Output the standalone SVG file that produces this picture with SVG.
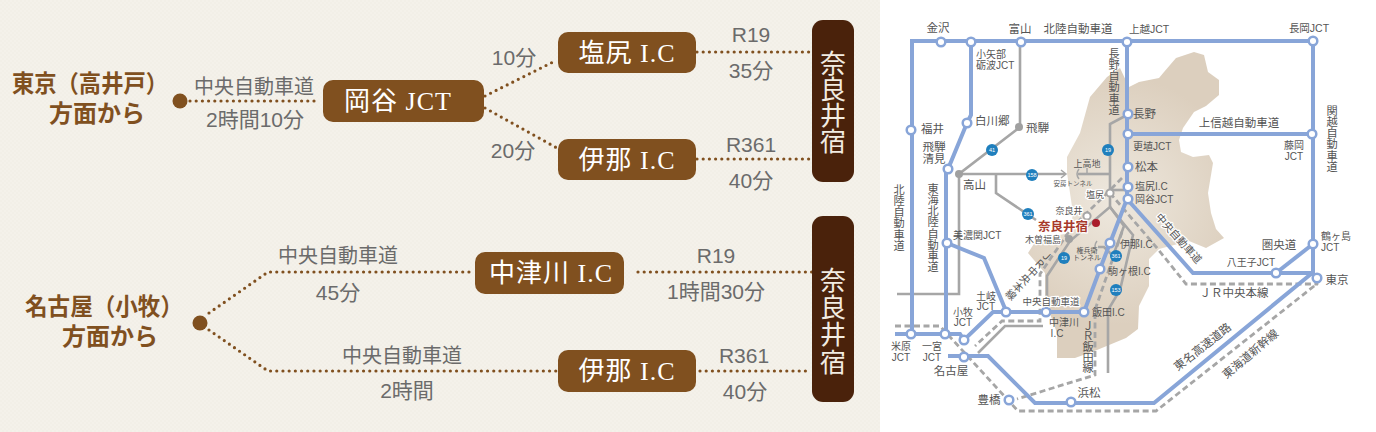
<svg xmlns="http://www.w3.org/2000/svg" width="1376" height="432" viewBox="0 0 1376 432">
<style>
.ser{font-family:"Liberation Serif","Noto Sans CJK JP",serif}
.h{font-family:"Noto Sans CJK JP",sans-serif;font-weight:700;fill:#80501f;font-size:24px;text-anchor:middle}
.box{fill:#80501f}
.dark{fill:#4a220b}
.bt{fill:#fff;font-size:26px;text-anchor:middle;letter-spacing:1px}
.vt{fill:#f2ece2;font-size:26px;font-family:"Noto Sans CJK JP",serif;writing-mode:vertical-rl;text-orientation:upright}
.lb{fill:#6b6b6b;font-size:20px;text-anchor:middle;font-family:"Liberation Sans","Noto Sans CJK JP",sans-serif}
.n{font-size:21px}
.dot{fill:none;stroke:#80501f;stroke-width:3.2;stroke-linecap:round;stroke-dasharray:0 6.2}
.bl{fill:none;stroke:#88a5d8;stroke-width:4}
.gr{fill:none;stroke:#a6a6a6;stroke-width:2.6}
.thin{fill:none;stroke:#a6a6a6;stroke-width:1.5}
.da{fill:none;stroke:#a6a6a6;stroke-width:2.8;stroke-dasharray:6 3.5}
.nd{fill:#fff;stroke:#88a5d8;stroke-width:2.5}
.gn{fill:#fff;stroke:#a6a6a6;stroke-width:2}
.gd{fill:#a0a0a0}
.m{fill:#555;font-size:11.5px;font-family:"Liberation Sans","Noto Sans CJK JP",sans-serif}
.s{font-size:10px}
.xs{font-size:9px}
.xxs{font-size:7px}
.c{text-anchor:middle}
.v{writing-mode:vertical-rl;text-orientation:upright;font-size:11.2px}
.hl{stroke:#fff;stroke-width:2.5;paint-order:stroke;stroke-linejoin:round}
.red{fill:#a83a2b;font-size:12.5px;font-weight:700}
.sh{fill:#1f7fbd}
.st{fill:#fff;font-size:5.5px;text-anchor:middle;font-family:"Liberation Sans",sans-serif}
</style>
<defs>
<radialGradient id="tan" gradientUnits="userSpaceOnUse" cx="1115" cy="200" r="125">
<stop offset="0" stop-color="#eee8de"/><stop offset="1" stop-color="#dccfbe"/>
</radialGradient>
<pattern id="paper" width="4" height="4" patternUnits="userSpaceOnUse">
<rect width="4" height="4" fill="#f4f1ea"/><rect width="2" height="2" fill="#f2efe7"/><rect x="2" y="2" width="2" height="2" fill="#f2efe7"/>
</pattern>
</defs>
<rect width="1376" height="432" fill="#fff"/>
<rect width="880" height="432" fill="url(#paper)"/>

<g id="connectors">
<path class="dot" d="M190 101H320"/>
<path class="dot" d="M485 96L557 60"/>
<path class="dot" d="M485 108L557 148"/>
<path class="dot" d="M697 52H812"/>
<path class="dot" d="M697 159H812"/>
<path class="dot" d="M209 313L268 272H472"/>
<path class="dot" d="M209 330L268 371H556"/>
<path class="dot" d="M638 272H812"/>
<path class="dot" d="M700 371H810"/>
</g>

<g id="from-tokyo">
<circle cx="180" cy="101" r="7.5" fill="#80501f"/>
<text class="h" x="90" y="92" textLength="156" lengthAdjust="spacingAndGlyphs">東京（高井戸）</text>
<text class="h" x="97" y="122">方面から</text>
</g>
<g id="from-nagoya">
<circle cx="200" cy="323" r="7.5" fill="#80501f"/>
<text class="h" x="104" y="315" textLength="158" lengthAdjust="spacingAndGlyphs">名古屋（小牧）</text>
<text class="h" x="110" y="345">方面から</text>
</g>
<g id="okaya-jct"><rect class="box" x="323" y="80" width="161" height="42" rx="10"/><text class="ser bt" x="398" y="110">岡谷 JCT</text></g>
<g id="shiojiri-ic"><rect class="box" x="558" y="32" width="138" height="41" rx="10"/><text class="ser bt" x="627" y="62">塩尻 I.C</text></g>
<g id="ina-ic-1"><rect class="box" x="558" y="139" width="138" height="41" rx="10"/><text class="ser bt" x="627" y="169">伊那 I.C</text></g>
<g id="nakatsugawa-ic"><rect class="box" x="475" y="252" width="149" height="42" rx="10"/><text class="ser bt" x="551" y="282">中津川 I.C</text></g>
<g id="ina-ic-2"><rect class="box" x="558" y="350" width="138" height="42" rx="10"/><text class="ser bt" x="627" y="380">伊那 I.C</text></g>
<g id="narai-1"><rect class="dark" x="812" y="20" width="42" height="162" rx="11"/><text class="vt" x="833" y="50">奈良井宿</text></g>
<g id="narai-2"><rect class="dark" x="812" y="216" width="42" height="186" rx="11"/><text class="vt" x="833" y="267" style="letter-spacing:1.3px">奈良井宿</text></g>

<g id="route-labels">
<text class="lb" x="254" y="94">中央自動車道</text><text class="lb n" x="255" y="127">2時間10分</text>
<text class="lb n" x="514" y="65">10分</text><text class="lb n" x="513" y="158">20分</text>
<text class="lb n" x="751" y="42">R19</text><text class="lb n" x="751" y="78">35分</text>
<text class="lb n" x="751" y="152">R361</text><text class="lb n" x="751" y="188">40分</text>
<text class="lb" x="338" y="263">中央自動車道</text><text class="lb n" x="338" y="300">45分</text>
<text class="lb" x="402" y="363">中央自動車道</text><text class="lb n" x="407" y="398">2時間</text>
<text class="lb n" x="716" y="263">R19</text><text class="lb n" x="716" y="299">1時間30分</text>
<text class="lb n" x="744" y="363">R361</text><text class="lb n" x="745" y="399">40分</text>
</g>

<path id="nagano-area" fill="url(#tan)" d="M1194 52L1204 55L1208 72L1219 80L1219 95L1206 106L1194 112L1183 128L1179 140L1181 152L1193 157L1209 155L1213 163L1208 193L1211 213L1216 229L1224 238L1206 248L1189 241L1159 249L1149 259L1149 286L1139 306L1138 329L1126 338L1097 350L1075 358L1057 358L1057 333L1045 300L1045 273L1028 253L1037 239L1070 233L1073 213L1067 173L1067 157L1080 133L1090 97L1107 77L1120 68L1129 87L1139 82L1159 78L1164 72L1176 58Z"/>

<g id="map-connectors">
<g id="roads-grey">
<path class="gr" d="M1020 42V127L959 174V294H897"/>
<path class="gr" d="M959 174H1065"/>
<path class="gr" d="M1078 174H1110"/>
<path class="thin" d="M1061 170L1066 174L1061 178M1079 169Q1075 174 1079 179M1087 168V174"/>
<path class="gr" d="M996 174V193L1036 220"/>
<path class="gr" d="M1127 115L1110 124V207L1070 241L1047 276V312"/>
<path class="gr" d="M1110 190H1127"/>
<path class="gr" d="M1110 207L1133 235L1120 290L1108 310V373"/>
<path class="gr" d="M1110 207L1124 226L1113 256L1104 247H1098"/>
<path class="thin" d="M1097 241Q1093 246 1097 251"/>
<path class="gr" d="M1043 326H1005L978 353"/>
</g>
<g id="rail-dashed">
<path class="da" d="M895 326H940L1018 411H1156L1318 283"/>
<path class="da" d="M1110 193L1157 248L1186 284H1318"/>
<path class="da" d="M1122 178L1097 203L1070 230L1040 274V321H1002L975 346"/>
<path class="da" d="M1122 232L1095 310V375L1017 399"/>
</g>
<g id="expressways-blue">
<path class="bl" d="M912 334V41H1313V276"/>
<path class="bl" d="M971 41V115L967 123L948 169L946 172V334"/>
<path class="bl" d="M947 243L984 258L1006 311"/>
<path class="bl" d="M1084 312H993L964 340L960 334H895"/>
<path class="bl" d="M1127 41V199L1110 243L1100 269L1084 312"/>
<path class="bl" d="M1127 134H1313"/>
<path class="bl" d="M1127 199L1193 273H1313"/>
<path class="bl" d="M1276 273L1313 244"/>
<path class="bl" d="M1311 274L1154 403H1035L988 356H948"/>
</g>
</g>

<g id="map-shields">
<circle class="sh" cx="992" cy="150" r="6"/><text class="st" x="992" y="152">41</text>
<circle class="sh" cx="1108" cy="150" r="6"/><text class="st" x="1108" y="152">19</text>
<circle class="sh" cx="1032" cy="175" r="6"/><text class="st" x="1032" y="177">158</text>
<circle class="sh" cx="1028" cy="214" r="6"/><text class="st" x="1028" y="216">361</text>
<circle class="sh" cx="1064" cy="258" r="6"/><text class="st" x="1064" y="260">19</text>
<circle class="sh" cx="1116" cy="256" r="6"/><text class="st" x="1116" y="258">361</text>
<circle class="sh" cx="1116" cy="290" r="6"/><text class="st" x="1116" y="292">153</text>
</g>

<g id="map-nodes">
<g id="kanazawa"><circle class="nd" cx="941" cy="42" r="4.3"/></g>
<g id="oyabe"><circle class="nd" cx="971" cy="42" r="4.3"/></g>
<g id="toyama"><circle class="nd" cx="1021" cy="42" r="4.3"/></g>
<g id="joetsu"><circle class="nd" cx="1127" cy="42" r="4.3"/></g>
<g id="nagaoka"><circle class="nd" cx="1313" cy="41" r="4.3"/></g>
<g id="fukui"><circle class="nd" cx="911" cy="130" r="4.3"/></g>
<g id="shirakawago"><circle class="nd" cx="967" cy="123" r="4.3"/></g>
<g id="hida-kiyomi"><circle class="nd" cx="948" cy="169" r="4.3"/></g>
<g id="nagano"><circle class="nd" cx="1128" cy="114" r="4.3"/></g>
<g id="koshoku"><circle class="nd" cx="1128" cy="134" r="4.3"/></g>
<g id="fujioka"><circle class="nd" cx="1312" cy="134" r="4.3"/></g>
<g id="matsumoto"><circle class="nd" cx="1128" cy="167" r="4.3"/></g>
<g id="shiojiri"><circle class="nd" cx="1128" cy="187" r="4.3"/></g>
<g id="okaya"><circle class="nd" cx="1128" cy="199" r="4.3"/></g>
<g id="mino-seki"><circle class="nd" cx="947" cy="243" r="4.3"/></g>
<g id="toki"><circle class="nd" cx="1006" cy="312" r="4.3"/></g>
<g id="nakatsugawa"><circle class="nd" cx="1046" cy="312" r="4.3"/></g>
<g id="iida"><circle class="nd" cx="1084" cy="312" r="4.3"/></g>
<g id="ina"><circle class="nd" cx="1110" cy="243" r="4.3"/></g>
<g id="komagane"><circle class="nd" cx="1100" cy="269" r="4.3"/></g>
<g id="maibara"><circle class="nd" cx="911" cy="334" r="4.3"/></g>
<g id="ichinomiya"><circle class="nd" cx="945" cy="334" r="4.3"/></g>
<g id="komaki"><circle class="nd" cx="964" cy="340" r="4.3"/></g>
<g id="nagoya"><circle class="nd" cx="964" cy="357" r="4.3"/></g>
<g id="toyohashi"><circle class="nd" cx="1009" cy="400" r="4.3"/></g>
<g id="hamamatsu"><circle class="nd" cx="1071" cy="402" r="4.3"/></g>
<g id="hachioji"><circle class="nd" cx="1276" cy="273" r="4.3"/></g>
<g id="tsurugashima"><circle class="nd" cx="1313" cy="244" r="4.3"/></g>
<g id="tokyo"><circle class="nd" cx="1317" cy="278" r="4.3"/></g>
<g id="hida"><circle class="gd" cx="1019" cy="127" r="4"/></g>
<g id="takayama"><circle class="gd" cx="959" cy="174" r="4"/></g>
<g id="shiojiri-st"><circle class="gn" cx="1110" cy="193" r="3.6"/></g>
<g id="narai-st"><circle class="gn" cx="1087" cy="216" r="3.6"/></g>
<g id="kiso-fukushima"><circle class="gd" cx="1069" cy="239" r="4"/></g>
<g id="naraijuku"><circle cx="1096" cy="223" r="4" fill="#a91c2b"/></g>
</g>

<g id="map-labels">
<text class="m c" x="938" y="32">金沢</text>
<text class="m c" x="1020" y="33">富山</text>
<text class="m c" x="1078" y="33">北陸自動車道</text>
<text class="m" x="1129" y="33" style="font-size:10.5px">上越JCT</text>
<text class="m c" x="1309" y="32" style="font-size:10.5px">長岡JCT</text>
<text class="m s" x="976" y="58">小矢部</text>
<text class="m s" x="976" y="69">砺波JCT</text>
<text class="m" x="975" y="125">白川郷</text>
<text class="m" x="921" y="133">福井</text>
<text class="m c" x="934" y="151">飛騨</text>
<text class="m c" x="934" y="163">清見</text>
<text class="m" x="1026" y="132">飛騨</text>
<text class="m" x="963" y="189">高山</text>
<text class="m v" x="898" y="184">北陸自動車道</text>
<text class="m v" x="932" y="183">東海北陸自動車道</text>
<text class="m v" x="1113" y="48">長野自動車道</text>
<text class="m v" x="1331" y="105">関越自動車道</text>
<text class="m xs c" x="1087" y="167">上高地</text>
<text class="m c" x="1073" y="186" style="font-size:6.5px">安房トンネル</text>
<text class="m xs c hl" x="1095" y="198">塩尻</text>
<text class="m xs c hl" x="1069" y="214">奈良井</text>
<text class="m red c hl" x="1063" y="231">奈良井宿</text>
<text class="m xs c hl" x="1043" y="243">木曽福島</text>
<text class="m xxs c" x="1087" y="253">権兵衛</text>
<text class="m xxs c" x="1087" y="260">トンネル</text>
<text class="m s" x="1133" y="150">更埴JCT</text>
<text class="m" x="1133" y="118">長野</text>
<text class="m" x="1135" y="171">松本</text>
<text class="m s" x="1135" y="190">塩尻I.C</text>
<text class="m s" x="1135" y="203">岡谷JCT</text>
<text class="m c" x="1239" y="127">上信越自動車道</text>
<text class="m s c" x="1294" y="149">藤岡</text>
<text class="m s c" x="1294" y="160">JCT</text>
<text class="m s" x="1120" y="248">伊那I.C</text>
<text class="m s" x="1108" y="275">駒ヶ根I.C</text>
<text class="m s" x="1092" y="316">飯田I.C</text>
<text class="m c hl" x="1051" y="305" style="font-size:9.5px">中央自動車道</text>
<text class="m s c" x="1064" y="326">中津川</text>
<text class="m s c" x="1057" y="337">I.C</text>
<text class="m s c" x="986" y="300">土岐</text>
<text class="m s c" x="986" y="310">JCT</text>
<text class="m s c" x="963" y="316">小牧</text>
<text class="m s c" x="963" y="326">JCT</text>
<text class="m s" x="953" y="239">美濃関JCT</text>
<text class="m s c" x="901" y="350">米原</text>
<text class="m s c" x="901" y="361">JCT</text>
<text class="m s c" x="932" y="350">一宮</text>
<text class="m s c" x="932" y="361">JCT</text>
<text class="m c" x="951" y="375">名古屋</text>
<text class="m c" x="989" y="404">豊橋</text>
<text class="m c" x="1089" y="397">浜松</text>
<text class="m v" x="1087" y="320" style="letter-spacing:-0.6px">ＪＲ飯田線</text>
<text class="m" transform="translate(1050 252) rotate(43)" style="writing-mode:vertical-rl;text-orientation:upright;font-size:10.5px">ＪＲ中央本線</text>
<text class="m c hl" transform="translate(1176 241) rotate(48)" style="font-size:10.5px">中央自動車道</text>
<text class="m c" transform="translate(1205 350) rotate(-38)">東名高速道路</text>
<text class="m c" transform="translate(1253 357) rotate(-40)">東海道新幹線</text>
<text class="m c" x="1234" y="297">ＪＲ中央本線</text>
<text class="m s c" x="1251" y="266">八王子JCT</text>
<text class="m c" x="1279" y="249">圏央道</text>
<text class="m s" x="1321" y="240">鶴ヶ島</text>
<text class="m s" x="1321" y="251">JCT</text>
<text class="m c" x="1337" y="284">東京</text>
</g>
</svg>
